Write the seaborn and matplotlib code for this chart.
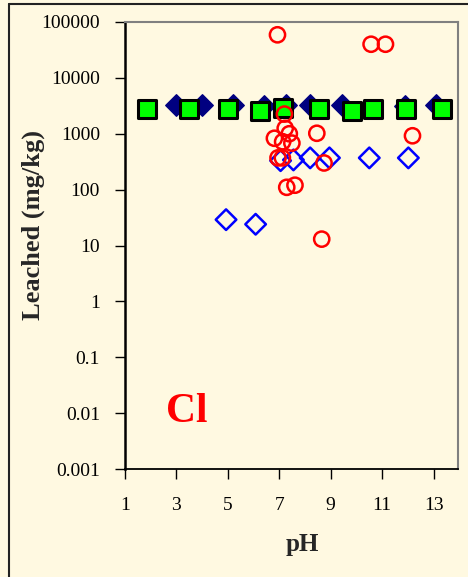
import matplotlib
matplotlib.use("Agg")
import matplotlib.pyplot as plt
import seaborn as sns
import pandas as pd
from matplotlib.lines import Line2D

# ---- data ----
navy_ph = [3.0, 4.0, 5.2, 6.4, 7.25, 8.2, 9.45, 11.9, 13.1]
navy_val = [3300, 3300, 3300, 3200, 3300, 3300, 3300, 3200, 3300]

green_ph = [1.87, 3.49, 5.02, 6.25, 7.15, 8.56, 9.83, 10.66, 11.93, 13.32]
green_val = [2750, 2750, 2750, 2550, 2850, 2750, 2550, 2750, 2750, 2750]

blue_ph = [4.93, 6.08, 7.05, 7.55, 8.2, 8.95, 10.5, 12.02]
blue_val = [29, 24, 330, 340, 370, 370, 370, 370]

red_ph = [6.93, 10.57, 11.13, 7.2, 7.23, 7.39, 6.81, 7.49, 7.13, 8.46, 12.18,
          6.95, 7.12, 8.74, 7.29, 7.61, 8.65]
red_val = [59000, 40000, 40000, 2250, 1250, 1000, 830, 680, 720, 1020, 920,
           370, 370, 300, 110, 120, 13]

x_ticks = [1, 3, 5, 7, 9, 11, 13]
y_ticks = [0.001, 0.01, 0.1, 1, 10, 100, 1000, 10000, 100000]
y_tick_labels = ["0.001", "0.01", "0.1", "1", "10", "100", "1000", "10000", "100000"]

cream = "#FFF9E1"

sns.set_style("ticks")
plt.rcParams["font.family"] = ["Liberation Serif", "DejaVu Serif"]

fig = plt.figure(figsize=(4.68, 5.77), dpi=100, facecolor=cream)
ax = fig.add_axes([125 / 468, 1 - 469 / 577, 333 / 468, 447 / 577])
ax.set_facecolor(cream)

df_navy = pd.DataFrame({"pH": navy_ph, "v": navy_val})
df_green = pd.DataFrame({"pH": green_ph, "v": green_val})
df_blue = pd.DataFrame({"pH": blue_ph, "v": blue_val})
df_red = pd.DataFrame({"pH": red_ph, "v": red_val})

sns.scatterplot(data=df_navy, x="pH", y="v", ax=ax, marker="D", s=120,
                color="#000080", edgecolor="#000080", linewidth=1, zorder=3)
sns.scatterplot(data=df_green, x="pH", y="v", ax=ax, marker="s", s=155,
                color="#00FF00", edgecolor="black", linewidth=2.2, zorder=4)
sns.scatterplot(data=df_blue, x="pH", y="v", ax=ax, marker="D", s=110,
                facecolor="none", edgecolor="#0000FF", linewidth=1.8, zorder=5)
sns.scatterplot(data=df_red, x="pH", y="v", ax=ax, marker="o", s=120,
                facecolor="none", edgecolor="#FF0000", linewidth=1.8, zorder=6)

ax.set_yscale("log")
ax.set_xlim(1, 13.95)
ax.set_ylim(0.001, 100000)
ax.set_xticks(x_ticks)
ax.set_xticklabels([str(t) for t in x_ticks])
ax.set_yticks(y_ticks)
ax.set_yticklabels(y_tick_labels)
ax.minorticks_off()

for side in ["left", "bottom"]:
    ax.spines[side].set_color("black")
ax.spines["left"].set_linewidth(1.8)
ax.spines["bottom"].set_linewidth(1.3)
for side in ["top", "right"]:
    ax.spines[side].set_visible(True)
    ax.spines[side].set_color("#808080")
    ax.spines[side].set_linewidth(1.5)

ax.tick_params(axis="y", direction="out", length=7, width=1, pad=11,
               labelsize=14, colors="black")
ax.tick_params(axis="x", direction="out", length=7, width=1, pad=13,
               labelsize=14, colors="black")

ax.set_xlabel("pH", fontsize=18, fontweight="bold", va="center")
ax.xaxis.set_label_coords((302 - 125) / 333, (469 - 545) / 447)
ax.set_ylabel("Leached (mg/kg)", fontsize=19, fontweight="bold", va="center")
ax.yaxis.set_label_coords((33 - 125) / 333, (469 - 225) / 447)

ax.text((187 - 125) / 333, (469 - 412) / 447, "Cl", transform=ax.transAxes,
        ha="center", va="center", fontsize=30, fontweight="bold", color="#FF0000")

# outer frame lines (top and left)
fig.add_artist(Line2D([8.5 / 468, 8.5 / 468], [0, 1 - 3.5 / 577], color="#222222",
                      lw=1.5, transform=fig.transFigure))
fig.add_artist(Line2D([8.5 / 468, 1], [1 - 3.5 / 577, 1 - 3.5 / 577], color="#222222",
                      lw=1.5, transform=fig.transFigure))

fig.savefig("out.png", dpi=100, facecolor=cream)
